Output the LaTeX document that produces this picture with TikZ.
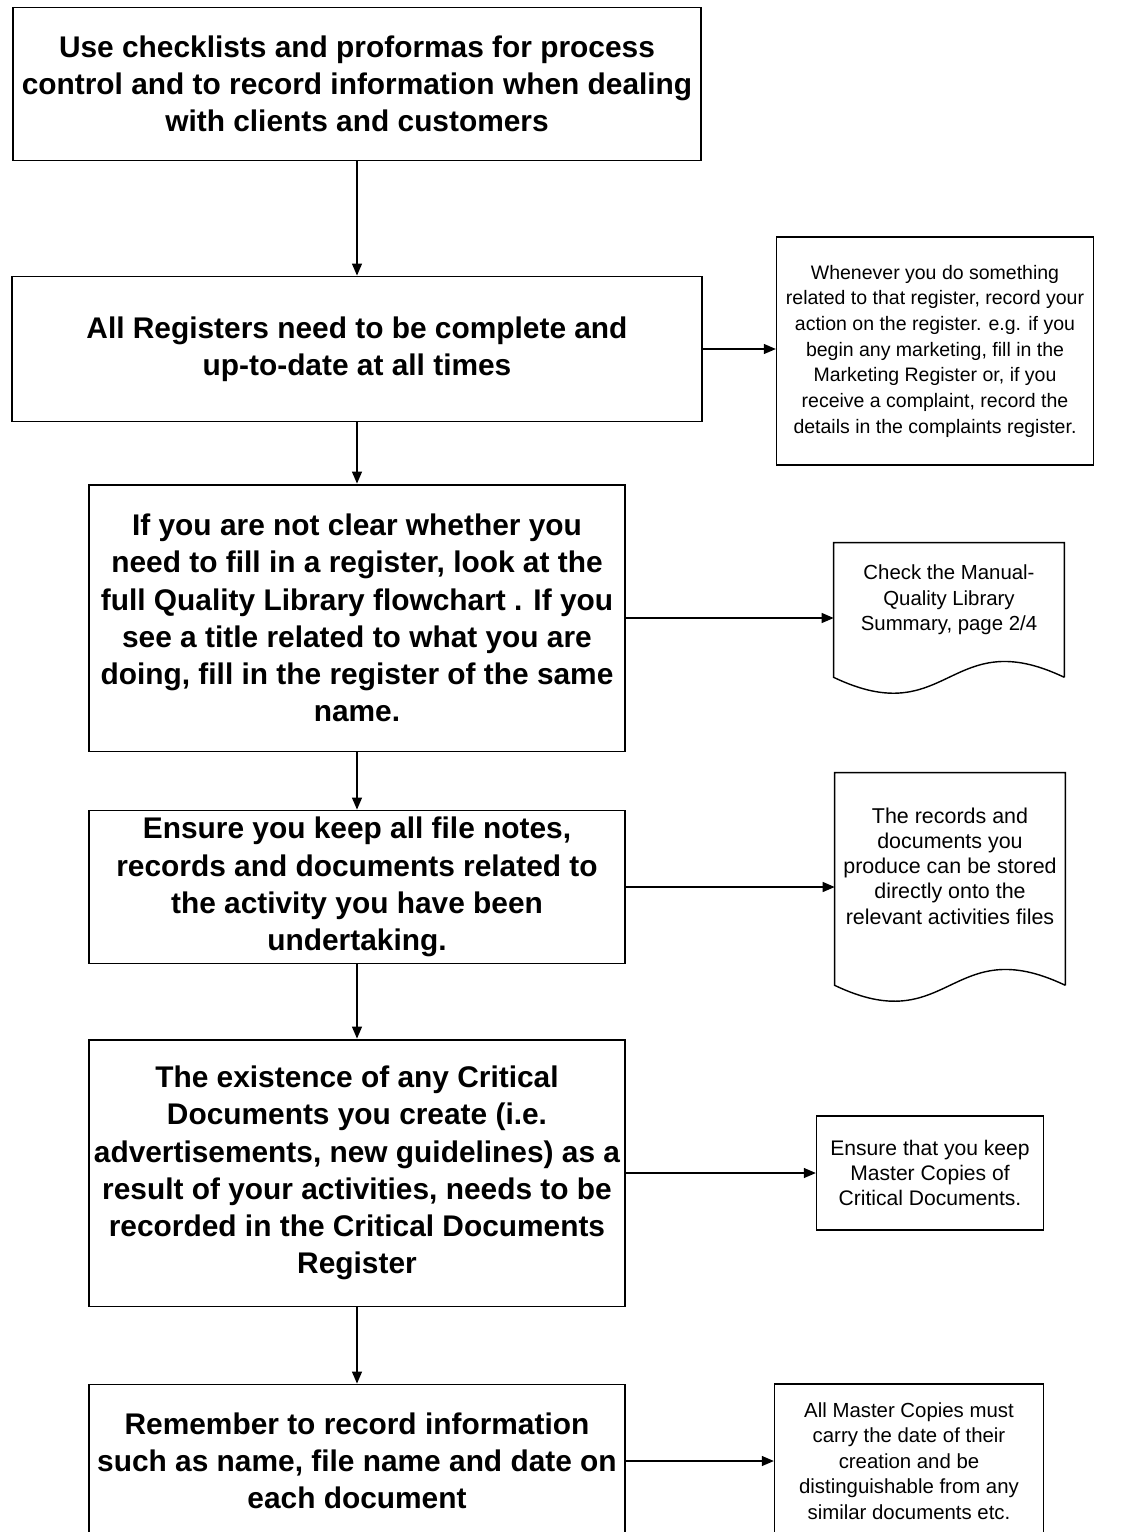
\documentclass[tikz,border=0pt]{standalone}
\usepackage{fontspec}
\setmainfont{Liberation Sans}
\usetikzlibrary{arrows.meta}

\begin{document}
\begin{tikzpicture}[x=0.02cm, y=-0.02cm,
    stepbox/.style={draw, line width=1.1pt, align=center, inner sep=0pt,
      font=\bfseries\fontsize{17}{21.2}\selectfont},
    notebox/.style={draw, line width=0.8pt, align=center, inner sep=0pt,
      font=\fontsize{11.6}{14.6}\selectfont},
    doctext/.style={align=center, inner sep=0pt, minimum width=4.6cm,
      font=\fontsize{11.6}{14.4}\selectfont},
    docline/.style={line width=0.8pt},
    arr/.style={line width=0.7pt, -{Triangle[length=0.24cm,width=0.2cm]}}]
  \useasboundingbox (0,0) rectangle (1122,1532);
  \clip (0,0) rectangle (1122,1532);

  % main column
  \node[stepbox, minimum width=13.78cm, minimum height=3.06cm] (b1) at (357,84)
    {Use checklists and proformas for process\\control and to record information when dealing\\with clients and customers};
  \node[stepbox, minimum width=13.82cm, minimum height=2.9cm] (b2) at (357,349)
    {All Registers need to be complete and\\up-to-date at all times};
  \node[stepbox, minimum width=10.72cm, minimum height=5.34cm] (b3) at (357,618)
    {If you are not clear whether you\\need to fill in a register, look at the\\full Quality Library flowchart . If you\\see a title related to what you are\\doing, fill in the register of the same\\name.};
  \node[stepbox, minimum width=10.72cm, minimum height=3.06cm] (b4) at (357,887)
    {Ensure you keep all file notes,\\records and documents related to\\the activity you have been\\undertaking.};
  \node[stepbox, minimum width=10.72cm, minimum height=5.34cm] (b5) at (357,1173)
    {The existence of any Critical\\Documents you create (i.e.\\advertisements, new guidelines) as a\\result of your activities, needs to be\\recorded in the Critical Documents\\Register};
  \node[stepbox, minimum width=10.72cm, minimum height=3.06cm] (b6) at (357,1461)
    {Remember to record information\\such as name, file name and date on\\each document};

  % side notes
  \node[notebox, minimum width=6.34cm, minimum height=4.56cm, font=\fontsize{11.1}{14.6}\selectfont] (n1) at (935,351)
    {Whenever you do something\\related to that register, record your\\action on the register. e.g. if you\\begin any marketing, fill in the\\Marketing Register or, if you\\receive a complaint, record the\\details in the complaints register.};
  \node[doctext, minimum height=2.28cm] (d1) at (949,600)
    {Check the Manual-\\Quality Library\\Summary, page 2/4};
  \node[doctext, minimum height=3.72cm, font=\fontsize{12.2}{14.4}\selectfont] (d2) at (950,866)
    {The records and\\documents you\\produce can be stored\\directly onto the\\relevant activities files};
  \node[notebox, minimum width=4.54cm, minimum height=2.28cm, font=\fontsize{12}{14.4}\selectfont] (n3) at (930,1173)
    {Ensure that you keep\\Master Copies of\\Critical Documents.};
  \node[notebox, minimum width=5.38cm, minimum height=3.08cm] (n4) at (909,1461)
    {All Master Copies must\\carry the date of their\\creation and be\\distinguishable from any\\similar documents etc.};

  % document outlines
  \draw[docline] ([yshift=-0.4cm]d1.south east) -- (d1.north east) -- (d1.north west)
    -- ([yshift=-0.4cm]d1.south west) .. controls +(115,55) and +(-115,-55) .. ([yshift=-0.4cm]d1.south east);
  \draw[docline] ([yshift=-0.52cm]d2.south east) -- (d2.north east) -- (d2.north west)
    -- ([yshift=-0.52cm]d2.south west) .. controls +(115,55) and +(-115,-55) .. ([yshift=-0.52cm]d2.south east);

  % connectors
  \draw[arr] (b1) -- (b2);
  \draw[arr] (b2) -- (b3);
  \draw[arr] (b3) -- (b4);
  \draw[arr] (b4) -- (b5);
  \draw[arr] (b5) -- (b6);
  \draw[arr] (b2.east) -- (b2.east -| n1.west);
  \draw[arr] (b3.east) -- (b3.east -| d1.west);
  \draw[arr] (b4.east) -- (b4.east -| d2.west);
  \draw[arr] (b5.east) -- (b5.east -| n3.west);
  \draw[arr] (b6.east) -- (b6.east -| n4.west);

\end{tikzpicture}
\end{document}
